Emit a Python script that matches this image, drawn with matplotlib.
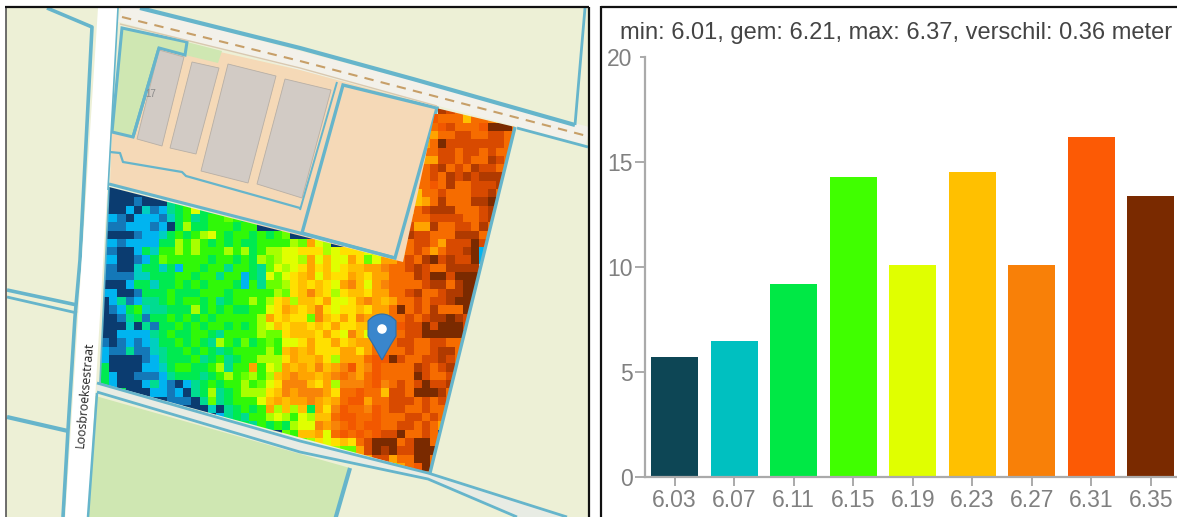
import numpy as np
import matplotlib
matplotlib.use("Agg")
import matplotlib.pyplot as plt
from matplotlib.colors import ListedColormap
from matplotlib.patches import Polygon, Rectangle, PathPatch, Circle
from matplotlib.path import Path

plt.rcParams['font.family'] = ['Liberation Sans', 'DejaVu Sans']

# ---------- histogram data ----------
bin_labels = ["6.03", "6.07", "6.11", "6.15", "6.19", "6.23", "6.27", "6.31", "6.35"]
bin_values = [5.7, 6.5, 9.2, 14.3, 10.1, 14.5, 10.1, 16.2, 13.4]
bin_colors = ["#0d4655", "#00c0c0", "#00e845", "#40ff00", "#e0ff00",
              "#ffc000", "#f88008", "#fc5a05", "#7a2a00"]
y_ticks = [0, 5, 10, 15, 20]
title_text = "min: 6.01, gem: 6.21, max: 6.37, verschil: 0.36 meter"

# ---------- height classes of the field raster, read by eye ('.' = no data) ----------
class_keys = "0a1b23c4d5e6f7g8hi9"
class_colors = ["#0b3c70", "#1478b8", "#00b4f0", "#00cfc0", "#00dc90", "#00ea50", "#30f808",
                "#68ff00", "#a8ff00", "#e0ff00", "#ffe000", "#ffc000", "#ffa400", "#f88408",
                "#f66c00", "#f25800", "#d84a00", "#b03a00", "#7a2a00"]
field_rows = [
    ".......... .......... .......... .......... .ihg766ihh 9",
    ".......... .......... .......... .........8 8ggg6gg76g 9",
    ".......... .......... .......... .........g g8hggg8999 g",
    ".......... .......... .......... .........g fgghhgghhg g",
    ".......... .......... .......... .........f g9hhhhhhhg 5",
    ".......... .......... .......... .........g ghhghhghgg 5",
    ".......... .......... .......... ........ff fhhghggihg 6",
    ".......... .......... .......... ........gg highgihhgf d",
    ".......... .......... .......... ........gg hgihihiiih .",
    "000000.... .......... .......... ........gg 8gigghhhig .",
    "0000000... .......... .......... ........6g ghggghhig7 .",
    "0000a00023 33........ .......... ........6f gigggii9hc .",
    "00010ba123 c533...... .......... .......fgh iiiggghii. .",
    "11a0111ab3 c23cc4c300 .......... .......ggg hhhhgghii7 .",
    "aaa111a103 d33ccc3cc0 00c....... .......hff igghhgig71 .",
    "0000a11b3c 3cd5c3cc3c 3c40000... .......ihh gggiiigfc. .",
    "11a111133d cdc3c3c33c cccd4f5d00 ......gghh gfhhh9h7.. .",
    "aa0013bccd cdcccdcd3c dd55eeed5e ee5d..fghg fghhi91... .",
    "1100a134cc ccc3cc3c3d 4d55df5655 fe45ffghgi 9hihh91... .",
    "aa00b33b31 cc3cc2cc32 45d5efe65e 66ff7gghih ggiiii.... .",
    "aaaabb333c c3cc2cc132 545e6f56ee f6effgggih 99h999.... .",
    "000133b33c 3c3ccc31c2 44de6e6e5f 765f7ggggh iigi99.... .",
    "1100a333c3 33ccc3cccc cd4e676ede 66effgghig ghii99.... .",
    "012a1223c3 cc3c23ccdc de6d66ef55 ef7f6fgghg hhi999.... .",
    "0a13cb2233 3d3c3c33cc 5ef6e67e5e e6effg9ghg iggg9h.... .",
    "00a23a33c3 c3c3cccccd fe6ee476ef e7fffgghgh ii9ih7.... .",
    "000b02a33c 3c3cc3c3cd 56e66e6efe e66ffg8hh9 h999h1.... .",
    "00111123c3 3cc32ccccd 44e666efe5 7657fgghh9 99999..... .",
    "a0a1a1b33c 3c32dc343c 4c55efeefe 6ffggghhgg hhggh..... .",
    "1aa2aab233 c3c323cccc dc6f6feeef fefgggghgg hiig5..... .",
    "10000a1233 3c23c23ccd ddef66fedf ffg889hggh hihg0..... .",
    "3000011b3c c33cd2ccfc 5df6f676f7 8f78ggggih ghi7...... .",
    "3100aaa123 3323cdc4dc d6f7ff6f7g 7fg8gggg9h gghf...... .",
    "31000121a0 123c3ccdc4 5e7776efd7 77g87ghgh9 hhi4...... .",
    "33300011a1 023d23cddd e67f777feg g8gg6hhg99 9igd...... .",
    ".....000aa a02423ccc5 6f6ff7f6fg 88fgghhhgh ghg7...... .",
    "........0a 000b023c3c fd6d63fe78 gg78ghhggh gg6....... .",
    ".......... ...01232cc d5dc5d66g8 8gg8ggghhg hg7....... .",
    ".......... ......232c 3c3d557f7g 8g88gghhgh gf........ .",
    ".......... .......... 004c66f5g8 g8g8hh9ggh g0........ .",
    ".......... .......... ....4de5e6 egh999gh99 g5........ .",
    ".......... .......... ........d4 4fh9i9hh99 90........ .",
    ".......... .......... .......... .4fhhfgg99 g......... .",
    ".......... .......... .......... .....4fg89 g......... .",
    ".......... .......... .......... .........g 8......... .",
]

W, H = 1177, 517
fig = plt.figure(figsize=(W / 100, H / 100), dpi=100, facecolor="white")

# ---------- map panel (pixel coordinates of the picture) ----------
ax = fig.add_axes([0, 0, 1, 1])
ax.set_xlim(0, W)
ax.set_ylim(H, 0)
ax.axis("off")

LAND = "#edf0d6"
GREEN = "#cfe7b2"
PEACH = "#f5d9b7"
WATER = "#66b5cb"
ROADBAND = "#f3f1ea"

panel = Rectangle((6, 7), 582, 512, facecolor=LAND, edgecolor="none", zorder=0)
ax.add_patch(panel)


def clip(a):
    a.set_clip_path(panel)
    return a


def poly(points, fc, ec="none", lw=0, z=1):
    p = Polygon(points, closed=True, facecolor=fc, edgecolor=ec, linewidth=lw, zorder=z,
                joinstyle="miter")
    ax.add_patch(p)
    return clip(p)


def line(points, lw=2, color=WATER, z=2, **kw):
    xs, ys = zip(*points)
    l, = ax.plot(xs, ys, color=color, lw=lw, zorder=z, solid_capstyle="butt", **kw)
    return clip(l)


# land use
poly([(110, 185), (112, 132), (122, 28), (220, 52), (300, 70), (437, 107), (403, 264)], PEACH)
poly([(187, 42), (222, 51), (218, 63), (185, 55)], GREEN, z=1.2)
poly([(122, 28), (187, 42), (185, 55), (159, 48), (133, 137), (112, 132)], GREEN, WATER, 2.2, z=1.3)
poly([(92, 395), (350, 468), (335, 520), (88, 520)], GREEN)

# buildings
for b in ([(159, 50), (184, 57), (162, 146), (137, 139)],
          [(192, 62), (219, 68), (196, 154), (170, 148)],
          [(228, 64), (276, 76), (248, 183), (201, 171)],
          [(285, 79), (331, 90), (302, 198), (257, 184)]):
    poly(b, "#d2cbc5", "#b7afa6", 0.6, z=1.4)
line([(159, 48), (133, 137)], lw=2.2, z=1.5)

# plot east of the buildings
poly([(343, 85), (437, 108), (395, 258), (302, 233)], PEACH, WATER, 2.4, z=1.6)
line([(337, 82), (300, 210)], lw=1.4)
line([(110, 152), (120, 153), (123, 162), (182, 172), (186, 176), (300, 208)], lw=1.6)

# upper road with track
line([(120, 13), (588, 136)], lw=13, color=ROADBAND, z=1.8)
line([(122, 17), (300, 61), (587, 136)], lw=1.5, color="#c79f68", z=1.9, ls=(0, (4.5, 3.5)))
line([(140, 8), (300, 48), (413, 79), (575, 125)], lw=3)
line([(120, 24), (300, 68), (437, 106)], lw=1.0, color="#d9c9b0")
line([(517, 128), (588, 147)], lw=2)
line([(585, 8), (575, 125)], lw=2)

# field raster
n_rows = len(field_rows)
cleaned = [r.replace(" ", "").ljust(51, ".")[:51] for r in field_rows]
grid = np.ma.masked_equal(
    np.array([[-1 if ch == "." else class_keys.index(ch) for ch in r] for r in cleaned],
             dtype=float), -1)
x_edges = 101 + 8.225 * np.arange(52)
y_edges = 106 + 8.3 * np.arange(n_rows + 1)
outline = Polygon([(109, 187), (403, 262), (436, 108), (515, 127), (430, 473), (100, 383)],
                  closed=True, facecolor="none", edgecolor="none", zorder=2.4)
ax.add_patch(outline)
mesh = ax.pcolormesh(x_edges, y_edges, grid, cmap=ListedColormap(class_colors),
                     vmin=-0.5, vmax=len(class_colors) - 0.5, zorder=2.5, antialiased=False)
mesh.set_clip_path(outline)

# field edges and ditches
line([(515, 127), (430, 473)], lw=2.4, z=3)
line([(109, 184), (300, 233), (395, 258)], lw=2.2, z=3)
line([(109, 187), (100, 383)], lw=1.2, z=3)
poly([(97, 383), (300, 441), (428, 473), (567, 517), (517, 517), (428, 479), (300, 452), (97, 392)],
     "#e8ece4", z=2.9)
line([(97, 383), (300, 441), (428, 473), (567, 517)], lw=2.0, z=3)
line([(97, 392), (300, 452), (428, 479), (517, 517)], lw=2.0, z=3)
line([(350, 468), (335, 520)], lw=3, z=3)

# main road and its ditches
poly([(98, 8), (118, 8), (88, 520), (65, 520)], "white", z=3.2)
line([(47, 8), (92, 27), (80, 260), (75, 317), (68, 430), (63, 517)], lw=2.6, z=3.1)
line([(118, 8), (108, 190)], lw=1.2, z=3.3)
line([(97, 393), (88, 517)], lw=1.8, z=3.3)
line([(7, 290), (77, 305)], lw=2.6)
line([(7, 297), (77, 313)], lw=2.0)
line([(7, 417), (68, 431)], lw=3)

ax.text(85, 395, "Loosbroeksestraat", rotation=85, rotation_mode="anchor", fontsize=8.8,
        color="#222222", ha="center", va="center", zorder=4,
        family=["Open Sans", "DejaVu Sans"])
ax.text(151, 94, "17", fontsize=7, color="#8a8a8a", ha="center", va="center", zorder=4)

# location pin
verts = [(382, 360), (372, 342), (368, 336), (368, 329), (368, 321), (374, 314), (382, 314),
         (390, 314), (396, 321), (396, 329), (396, 336), (392, 342), (382, 360)]
codes = [Path.MOVETO, Path.CURVE3, Path.CURVE3, Path.CURVE3, Path.CURVE3, Path.CURVE3, Path.CURVE3,
         Path.CURVE3, Path.CURVE3, Path.CURVE3, Path.CURVE3, Path.CURVE3, Path.CURVE3]
ax.add_patch(PathPatch(Path(verts, codes), facecolor="#3a86cc", edgecolor="#2e6ea8", lw=0.8, zorder=5))
ax.add_patch(Circle((382, 329), 4.8, facecolor="white", edgecolor="none", zorder=6))

# panel frames
line_k = dict(color="#111111", zorder=7, solid_capstyle="butt")
ax.plot([5.5, 5.5], [7, H], lw=1.2, **{**line_k, "color": "#555555"})
ax.plot([5, 589], [7, 7], lw=1.6, **line_k)
ax.plot([588.5, 588.5], [7, H], lw=1.6, **line_k)
ax.plot([601, 601], [6, H], lw=1.6, **line_k)
ax.plot([601, W], [6.5, 6.5], lw=1.6, **line_k)

# ---------- histogram panel ----------
bx = fig.add_axes([645 / W, (H - 477) / H, (W - 645) / W, 420 / H])
positions = np.arange(len(bin_values))
bx.bar(positions, bin_values, width=0.79, color=bin_colors)
bx.set_xlim((645 - 674.5) / 59.55, (W - 674.5) / 59.55)
bx.set_ylim(0, 20)
bx.patch.set_alpha(0)
for s in ("top", "right"):
    bx.spines[s].set_visible(False)
for s in ("left", "bottom"):
    bx.spines[s].set_color("#aaaaaa")
    bx.spines[s].set_linewidth(1.6)
bx.set_yticks(y_ticks)
bx.set_xticks(positions)
bx.set_xticklabels(bin_labels)
bx.tick_params(axis="y", length=7, width=1.4, color="#aaaaaa", labelcolor="#808080",
               labelsize=16.5, pad=2)
bx.tick_params(axis="x", length=6.5, width=1.4, color="#aaaaaa", labelcolor="#808080",
               labelsize=16.5, pad=2)
bx.yaxis.get_major_ticks()[-1].tick1line.set_markersize(3.5)

ax.text(896, 33, title_text, fontsize=17, color="#444444", ha="center", va="center", zorder=8)

fig.savefig("out.png", dpi=100)
